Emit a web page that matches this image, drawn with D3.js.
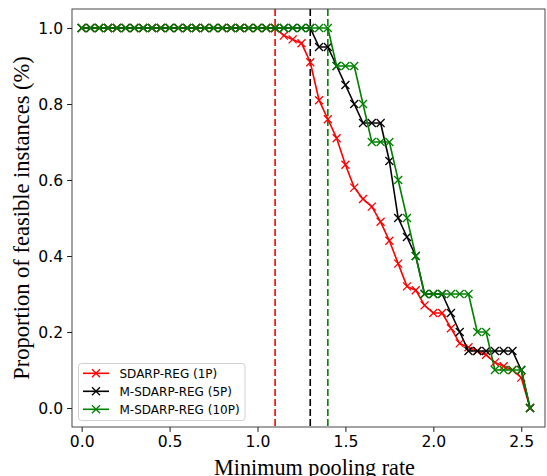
<!DOCTYPE html>
<html>
<head>
<meta charset="utf-8">
<script src="https://cdn.jsdelivr.net/npm/d3@7/dist/d3.min.js"></script>
<style>
  html, body { margin: 0; padding: 0; background: #fff; overflow: hidden; }
  svg { display: block; }
</style>
</head>
<body>
<svg id="chart" width="547" height="476"></svg>
<script>
// ---- data ----
const poolingRates = [0.00,0.05,0.10,0.15,0.20,0.25,0.30,0.35,0.40,0.45,0.50,0.55,0.60,0.65,0.70,0.75,0.80,0.85,0.90,0.95,
  1.00,1.05,1.10,1.15,1.20,1.25,1.30,1.35,1.40,1.45,1.50,1.55,1.60,1.65,1.70,1.75,1.80,1.85,1.90,1.95,
  2.00,2.05,2.10,2.15,2.20,2.25,2.30,2.35,2.40,2.45,2.50,2.55];

const sdarp1P = [1,1,1,1,1,1,1,1,1,1,1,1,1,1,1,1,1,1,1,1,1,1,1,
  0.98,0.97,0.96,0.91,0.81,0.76,0.71,0.64,0.58,0.55,0.53,0.49,0.44,0.38,0.32,0.31,0.27,
  0.25,0.25,0.21,0.17,0.16,0.15,0.14,0.12,0.11,0.10,0.08,0.00];

const msdarp5P = [1,1,1,1,1,1,1,1,1,1,1,1,1,1,1,1,1,1,1,1,1,1,1,1,1,1,1,
  0.95,0.95,0.90,0.85,0.80,0.75,0.75,0.75,0.65,0.50,0.45,0.40,0.30,
  0.30,0.30,0.25,0.20,0.15,0.15,0.15,0.15,0.15,0.15,0.10,0.00];

const msdarp10P = [1,1,1,1,1,1,1,1,1,1,1,1,1,1,1,1,1,1,1,1,1,1,1,1,1,1,1,1,1,
  0.90,0.90,0.90,0.80,0.70,0.70,0.70,0.60,0.50,0.40,0.30,
  0.30,0.30,0.30,0.30,0.30,0.20,0.20,0.10,0.10,0.10,0.10,0.00];

const seriesNames = ["SDARP-REG (1P)", "M-SDARP-REG (5P)", "M-SDARP-REG (10P)"];
const seriesColors = ["#ff0000", "#000000", "#008000"];
const thresholds = [1.1, 1.3, 1.4];
const xTicks = [0.0, 0.5, 1.0, 1.5, 2.0, 2.5];
const yTicks = [0.0, 0.2, 0.4, 0.6, 0.8, 1.0];
const xDomain = [-0.055, 2.635];
const yDomain = [-0.05, 1.05];

// ---- layout ----
const L = 72, R = 545, T = 9, B = 427;
const svg = d3.select("#chart");
const x = d3.scaleLinear().domain(xDomain).range([L, R]);
const y = d3.scaleLinear().domain(yDomain).range([B, T]);

const tickFont = "DejaVu Sans, sans-serif";
const labelFont = "Liberation Serif, Times New Roman, serif";

// clip
svg.append("defs").append("clipPath").attr("id", "plotclip")
  .append("rect").attr("x", L).attr("y", T).attr("width", R - L).attr("height", B - T);

const plot = svg.append("g").attr("clip-path", "url(#plotclip)");

// threshold dashed lines
thresholds.forEach((t, i) => {
  plot.append("line")
    .attr("x1", x(t)).attr("x2", x(t))
    .attr("y1", T).attr("y2", B)
    .attr("stroke", seriesColors[i])
    .attr("stroke-width", 1.6)
    .attr("stroke-dasharray", "7,3");
});

const allSeries = [sdarp1P, msdarp5P, msdarp10P];
const line = d3.line().x((d, i) => x(poolingRates[i])).y(d => y(d));
const ms = 4;

function xMarker(g, cx, cy, color) {
  g.append("path")
    .attr("d", `M${cx - ms},${cy - ms}L${cx + ms},${cy + ms}M${cx - ms},${cy + ms}L${cx + ms},${cy - ms}`)
    .attr("stroke", color).attr("stroke-width", 1.3).attr("fill", "none");
}

allSeries.forEach((vals, si) => {
  const g = plot.append("g");
  g.append("path").datum(vals)
    .attr("d", line)
    .attr("fill", "none")
    .attr("stroke", seriesColors[si])
    .attr("stroke-width", 1.6)
    .attr("stroke-linejoin", "round");
  vals.forEach((v, i) => xMarker(g, x(poolingRates[i]), y(v), seriesColors[si]));
});

// axes
const xAxis = d3.axisBottom(x).tickValues(xTicks).tickFormat(d3.format(".1f")).tickSize(4.9).tickPadding(4);
const yAxis = d3.axisLeft(y).tickValues(yTicks).tickFormat(d3.format(".1f")).tickSize(4.9).tickPadding(4);

const gx = svg.append("g").attr("transform", `translate(0,${B})`).call(xAxis);
const gy = svg.append("g").attr("transform", `translate(${L},0)`).call(yAxis);
[gx, gy].forEach(g => {
  g.select(".domain").remove();
  g.selectAll(".tick line").attr("stroke", "#000").attr("stroke-width", 0.9);
  g.selectAll(".tick text").attr("font-family", tickFont).attr("font-size", "15.6px").attr("fill", "#000");
});

// frame
svg.append("rect").attr("x", L).attr("y", T).attr("width", R - L).attr("height", B - T)
  .attr("fill", "none").attr("stroke", "#333").attr("stroke-width", 0.9);

// axis labels
svg.append("text")
  .attr("x", (L + R) / 2 + 6).attr("y", 475)
  .attr("text-anchor", "middle")
  .attr("font-family", labelFont).attr("font-size", "22.2px")
  .text("Minimum pooling rate");

svg.append("text")
  .attr("transform", `translate(29,${(T + B) / 2}) rotate(-90)`)
  .attr("text-anchor", "middle")
  .attr("font-family", labelFont).attr("font-size", "22.5px")
  .text("Proportion of feasible instances (%)");

// legend
const lg = svg.append("g");
lg.append("rect").attr("x", 78.5).attr("y", 363.5).attr("width", 166.5).attr("height", 57)
  .attr("rx", 3).attr("fill", "#fff").attr("fill-opacity", 0.8)
  .attr("stroke", "#d0d0d0").attr("stroke-width", 1);
seriesNames.forEach((name, i) => {
  const ly = 373.3 + i * 18;
  lg.append("line").attr("x1", 83).attr("x2", 109).attr("y1", ly).attr("y2", ly)
    .attr("stroke", seriesColors[i]).attr("stroke-width", 1.6);
  xMarker(lg, 96, ly, seriesColors[i]);
  lg.append("text").attr("x", 119.5).attr("y", ly).attr("dy", "0.36em")
    .attr("font-family", tickFont).attr("font-size", "12px").attr("fill", "#000")
    .text(name);
});
</script>
</body>
</html>
